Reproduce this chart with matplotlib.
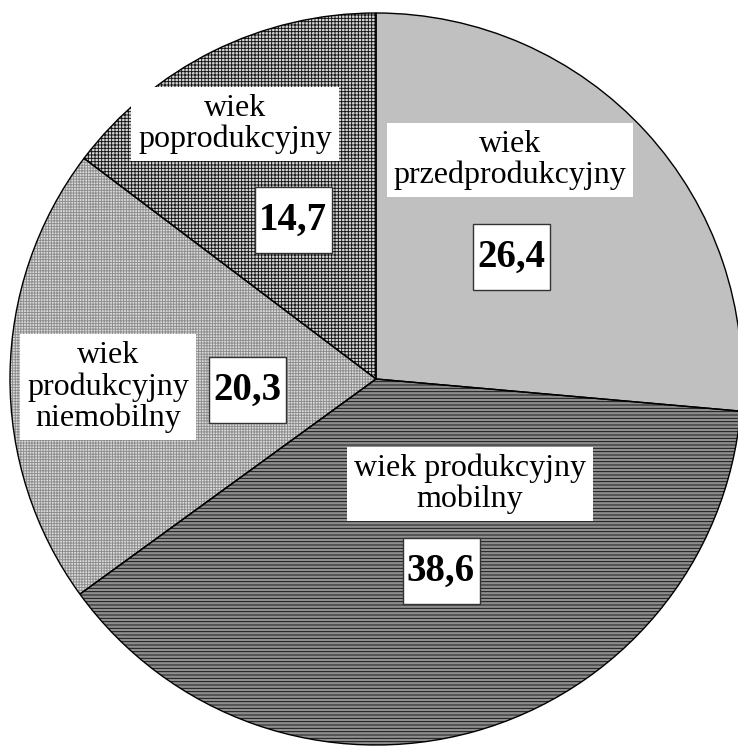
import matplotlib
matplotlib.use("Agg")
import matplotlib.pyplot as plt
from matplotlib.patches import Rectangle

# data
categories = ["wiek\nprzedprodukcyjny", "wiek produkcyjny\nmobilny",
              "wiek\nprodukcyjny\nniemobilny", "wiek\npoprodukcyjny"]
values = [26.4, 38.6, 20.3, 14.7]
value_labels = ["26,4", "38,6", "20,3", "14,7"]

# styles per slice: face colour, hatch, hatch colour
faces = ["#c0c0c0", "#8e8e8e", "#dadada", "#d4d4d4"]
hatches = [None, "-" * 5, "+" * 6, "+" * 5]
hatch_cols = ["#c0c0c0", "#111111", "#8c8c8c", "#111111"]

# label box centres in pixels (x, y from top)
cat_pos = [(510, 160), (470, 484), (108, 387), (235, 124)]
val_pos = [(511, 257), (441, 571), (247, 390), (293, 220)]
box_w, box_h = 77, 66

W, H = 738, 748
plt.rcParams["hatch.linewidth"] = 0.65
fig = plt.figure(figsize=(W / 100, H / 100), dpi=100)
ax = fig.add_axes([0, 0, 1, 1])

center = (376, H - 379)
radius = 366

wedges, _ = ax.pie(values, startangle=90, counterclock=False,
                   center=center, radius=radius, frame=True)
for w, fc, h, hc in zip(wedges, faces, hatches, hatch_cols):
    w.set_facecolor(fc)
    w.set_edgecolor(hc)
    w.set_linewidth(0)
    if h:
        w.set_hatch(h)

# outlines on top
ax.pie(values, startangle=90, counterclock=False, center=center, radius=radius,
       frame=True, wedgeprops={"fill": False, "edgecolor": "black", "linewidth": 1.0})
ax.set_xlim(0, W)
ax.set_ylim(0, H)
ax.set_aspect("equal")
ax.axis("off")

for txt, (x, y) in zip(categories, cat_pos):
    ax.text(x, H - y, txt, ha="center", va="center", family="Liberation Serif",
            fontsize=23, linespacing=1.08, zorder=5,
            bbox=dict(boxstyle="square,pad=0.22", facecolor="white", edgecolor="none"))

for txt, (x, y) in zip(value_labels, val_pos):
    ax.add_patch(Rectangle((x - box_w / 2, H - y - box_h / 2), box_w, box_h,
                           facecolor="white", edgecolor="#333333",
                           linewidth=1.0, zorder=4))
    ax.text(x, H - y, txt, ha="center", va="center", family="Liberation Serif",
            fontsize=28, fontweight="bold", zorder=5)

fig.savefig("out.png", dpi=100)
